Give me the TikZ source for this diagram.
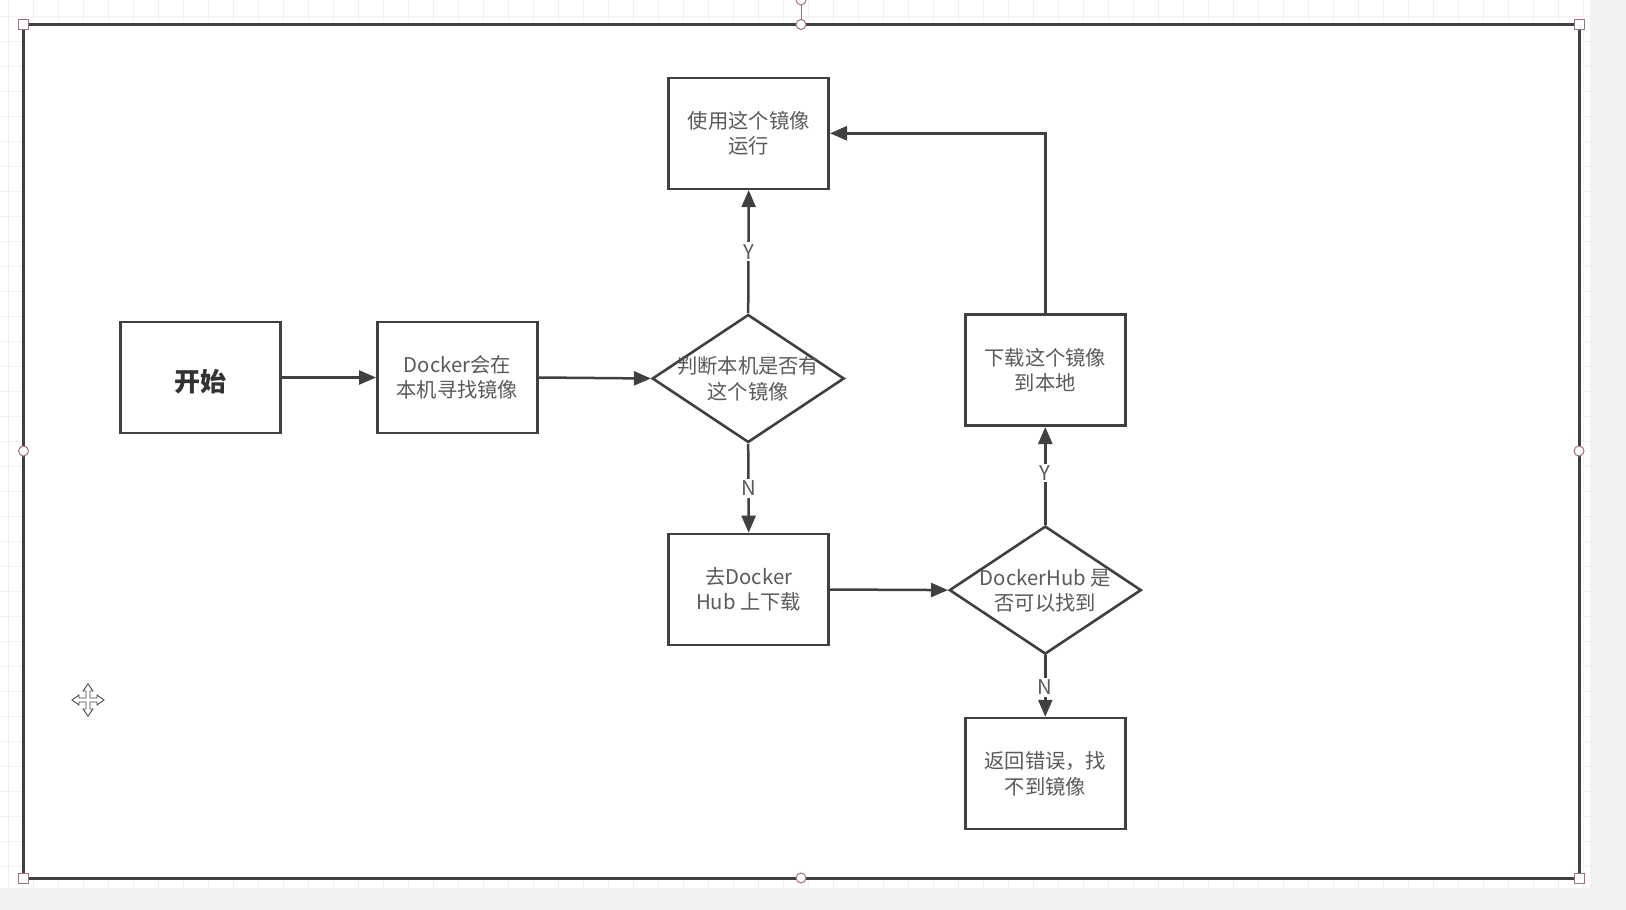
\documentclass[tikz,border=0pt]{standalone}
\usepackage{fontspec}
\setmainfont{Noto Sans CJK SC}
\usetikzlibrary{shapes.geometric,arrows.meta}
\definecolor{edge}{HTML}{404040}
\definecolor{txtc}{HTML}{5A5A5A}
\definecolor{gridc}{HTML}{F5F0F0}
\definecolor{handle}{HTML}{A07080}
\definecolor{outer}{HTML}{F2F2F2}
\tikzset{
  every node/.style={font=\fontsize{20.3}{25.5}\selectfont, text=txtc},
  box/.style={draw=edge, line width=2.6pt, fill=white, minimum width=160pt, minimum height=111pt, align=center, inner sep=0pt},
  dia/.style={draw=edge, line width=2.6pt, fill=white, shape=diamond, minimum width=192pt, minimum height=128pt, inner sep=0pt},
  txt/.style={align=center, inner sep=0pt},
  arr/.style={draw=edge, line width=2.5pt, -{Triangle[length=17pt,width=14pt]}},
  lbl/.style={fill=white, inner sep=2pt, text=txtc},
  hsq/.style={draw=handle, fill=white, line width=1pt, minimum size=10pt, inner sep=0pt},
  hci/.style={draw=handle, fill=white, line width=1pt, shape=circle, minimum size=10pt, inner sep=0pt}
}
\begin{document}
\begin{tikzpicture}[x=1pt,y=-1pt]
\useasboundingbox (0,0) rectangle (1626,910);
\fill[white] (0,0) rectangle (1626,910);
\fill[outer] (1590,0) rectangle (1626,910);
\fill[outer] (0,888) rectangle (1626,910);
% faint grid
\foreach \gx in {8,33,...,1583} \draw[gridc, line width=0.8pt] (\gx,0) -- (\gx,888);
\foreach \gy in {16,41,...,880} \draw[gridc, line width=0.8pt] (0,\gy) -- (1590,\gy);
% frame
\draw[edge, line width=3pt, fill=white] (23.5,24.5) rectangle (1579,878);
\draw[handle, line width=1pt] (801,0) -- (801,24.5);
\node[hci] (rot) at (801,0) {};
\node[hsq] (c1) at (23.5,24.5) {};
\node[hsq] (c2) at (1579,24.5) {};
\node[hsq] (c3) at (23.5,878) {};
\node[hsq] (c4) at (1579,878) {};
\node[hci] (m1) at (801,24.5) {};
\node[hci] (m2) at (801,878) {};
\node[hci] (m3) at (23.5,451) {};
\node[hci] (m4) at (1579,451) {};
% move icon
\begin{scope}[shift={(88,700)}, draw=black!70, line width=0.9pt]
\draw[fill=white] (-2,-9) -- (-2,-2) -- (-9,-2) -- (-9,-5) -- (-16,0) -- (-9,5) -- (-9,2) -- (-2,2) -- (-2,9) -- (-5,9) -- (0,16) -- (5,9) -- (2,9) -- (2,2) -- (9,2) -- (9,5) -- (16,0) -- (9,-5) -- (9,-2) -- (2,-2) -- (2,-9) -- (5,-9) -- (0,-16) -- (-5,-9) -- cycle;
\end{scope}
% nodes
\node[box] (start) at (200.7,377.5) {};
\node[txt, text=black!80, font=\fontsize{26}{30}\selectfont\bfseries] (startt) at (200.7,382) {开始};
\node[box] (look) at (457.3,377.5) {Docker会在\\本机寻找镜像};
\node[dia] (d1) at (748.2,378.5) {};
\node[txt] (d1t) at (748.2,379) {判断本机是否有\\这个镜像};
\node[box] (run) at (748.7,133.3) {使用这个镜像\\运行};
\node[box] (dl) at (1045.3,370.2) {下载这个镜像\\到本地};
\node[box] (hub) at (748.7,589.5) {去Docker\\Hub 上下载};
\node[dia] (d2) at (1045.3,590.1) {};
\node[txt] (d2t) at (1045.3,591) {DockerHub 是\\否可以找到};
\node[box] (err) at (1045.3,773.6) {返回错误，找\\不到镜像};
% connectors
\draw[arr] (start.east) -- (look.west);
\draw[arr] (look.east) -- (d1.west);
\draw[arr] (d1.north) -- node[lbl, pos=0.5] {Y} (run.south);
\draw[arr] (d1.south) -- node[lbl, pos=0.5] {N} (hub.north);
\draw[arr] (hub.east) -- (d2.west);
\draw[arr] (d2.north) -- node[lbl, pos=0.53] {Y} (dl.south);
\draw[arr] (d2.south) -- node[lbl, pos=0.52] {N} (err.north);
\draw[arr] (dl.north) |- (run.east);
\end{tikzpicture}
\end{document}
